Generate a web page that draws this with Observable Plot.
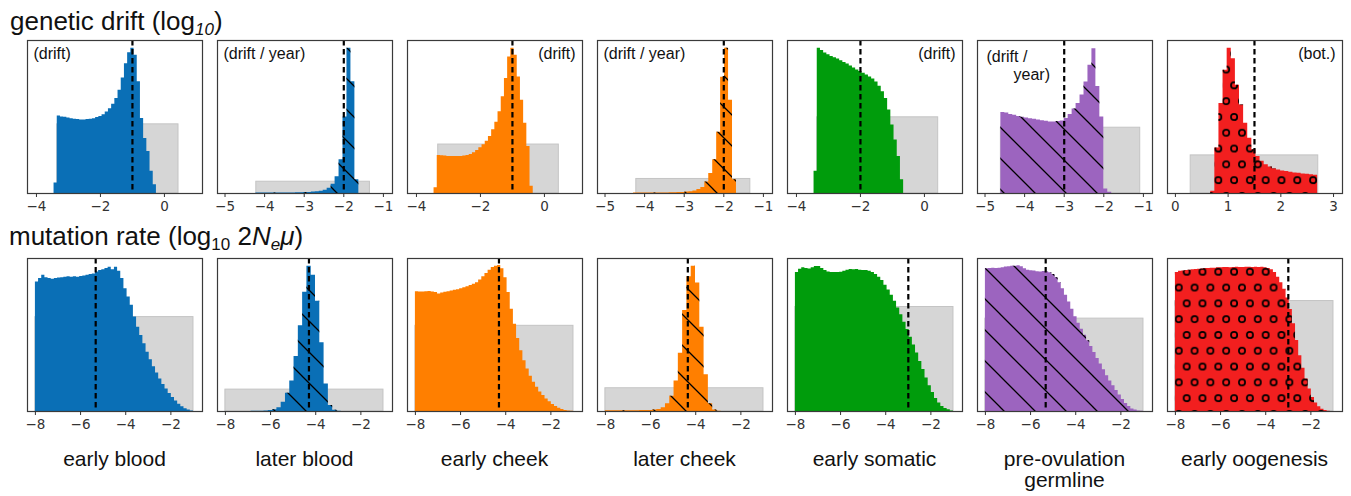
<!DOCTYPE html>
<html><head><meta charset="utf-8">
<script src="https://cdn.jsdelivr.net/npm/d3@7"></script>
<script src="https://cdn.jsdelivr.net/npm/@observablehq/plot@0.6"></script>
<style>
body{margin:0;background:#fff;}
#root{position:relative;width:1351px;height:496px;overflow:hidden;background:#fff;font-family:"Liberation Sans",Arial,sans-serif;color:#111;}
.panel{position:absolute;}
.title{position:absolute;font-size:26px;line-height:26px;white-space:nowrap;}
.title sub{font-size:17px;line-height:0;vertical-align:-5px;}
.col{position:absolute;font-size:21px;line-height:21px;text-align:center;width:220px;white-space:pre;}
</style></head><body>
<svg width="0" height="0" style="position:absolute">
<defs>
<pattern id="hatch" patternUnits="userSpaceOnUse" width="31" height="31">
<path d="M-5,-5L36,36M-5,26L5,36M26,-5L36,5" stroke="#000" stroke-width="1.3" fill="none"/>
</pattern>
<pattern id="circles" patternUnits="userSpaceOnUse" width="15.8" height="31.6">
<circle cx="4" cy="4" r="3.1" stroke="#000" stroke-width="1.7" fill="none"/>
<circle cx="11.9" cy="19.8" r="3.1" stroke="#000" stroke-width="1.7" fill="none"/>
</pattern>
</defs>
</svg>
<div id="root"></div>
<script>
// ---------- data ----------
const columnNames = ["early blood","later blood","early cheek","later cheek","early somatic","pre-ovulation\ngermline","early oogenesis"];
const columnColors = ["#0a6fb6","#0a6fb6","#ff7f00","#ff7f00","#009c0c","#9c64bf","#f21f1f"];
const columnFills = ["solid","hatch","solid","hatch","solid","hatch","circles"];

// top row: genetic drift (log10)
const driftNotes = [["(drift)"],["(drift / year)"],["(drift)"],["(drift / year)"],["(drift)"],["(drift /","year)"],["(bot.)"]];
const driftDomains = [[-4.28,1.19],[-5.19,-0.77],[-4.28,1.19],[-5.19,-0.77],[-4.28,1.19],[-5.19,-0.77],[-0.15,3.17]];
const driftTicks = [[-4,-2,0],[-5,-4,-3,-2,-1],[-4,-2,0],[-5,-4,-3,-2,-1],[-4,-2,0],[-5,-4,-3,-2,-1],[0,1,2,3]];
const driftTrue = [-1,-2,-1,-2,-2,-3,1.5];
const driftPriorLo = [-3.35,-4.21,-3.32,-4.21,-3.35,-4.6,0.29];
const driftPriorHi = [0.44,-1.34,0.45,-1.33,0.43,-1.08,2.71];
const driftPriorHeight = [45.2,7.7,32,9.5,49.8,43,24.9];
const driftBinStart = [-3.45,-4.22,-3.45,-4.28,-3.45,-4.6,0.67];
const driftBinWidth = [0.1,0.1,0.1,0.1,0.1,0.1,0.078];
const driftEarlyBlood = [6.9,50.6,50,49.8,49.4,48.9,48.5,48.3,48.1,48.1,48.3,48.5,48.9,49.6,50.4,51.5,53.2,55.4,58.4,62.1,67.5,75.5,84.8,92,95,90.3,73,49.1,36,27.5,14.5,5.8];
const driftLaterBlood = [0.4,0.4,0.4,0.3,0.3,0.3,0.3,0.3,0.4,0.4,0.5,0.5,0.6,0.7,0.9,1.1,1.5,2.2,3.5,6,11,22,50,95,73,9];
const driftEarlyCheek = [3.7,24.9,24.7,24.5,24.2,24.2,24.2,24.2,24.2,24.5,24.9,25.5,26.6,28.1,29.9,31.8,34.2,37.2,41.6,46.5,53.5,63.2,75.1,89.2,95,90.3,76.2,61,45.9,30.7,4.8];
const driftLaterCheek = [0.3,0.4,0.4,0.4,0.4,0.4,0.3,0.3,0.4,0.5,0.5,0.6,0.7,0.9,1.2,1.7,2.6,4,7.5,13,22,40,76,95,61,9];
const driftEarlySomatic = [14.5,95,93.5,91.8,90.7,89.6,88.7,87.9,86.8,85.7,84.6,83.3,82,80.7,79.7,78.6,77.5,76.2,74.9,72.9,70.1,66.5,62.1,54.5,44.8,35,24.2,9];
const driftPreOvulation = [53,52.6,51.7,51.1,50.4,49.8,49.4,48.9,48.5,48.1,47.6,47.2,46.8,46.8,47,47.4,49.1,51.7,55.2,58.9,64.3,72.9,83.8,94.6,70,50,3,0.8];
const driftOogenesis = [1.5,29.7,58.9,80.5,95,88,70.8,57.8,45.9,36.1,28.6,24.2,21,18.8,17.3,16.2,15.4,14.7,14.3,13.9,13.4,13.2,12.8,12.6,12.3,11.9];
const driftCounts = [driftEarlyBlood,driftLaterBlood,driftEarlyCheek,driftLaterCheek,driftEarlySomatic,driftPreOvulation,driftOogenesis];

// bottom row: mutation rate (log10 2Ne mu)
const mutDomain = [-8.35,-0.6];
const mutTicks = [-8,-6,-4,-2];
const mutTrue = [-5.33,-4.3,-4.3,-4.35,-3,-5.33,-3];
const mutPriorLo = [-8,-8,-8,-8,-8,-8,-8];
const mutPriorHi = [-1,-1,-1,-1,-1,-1,-1];
const mutPriorHeight = [61.7,14.3,56,15.2,68.3,60.7,72.2];
const mutBinStart = [-8,-8,-8,-8,-8,-8,-8];
const mutBinWidth = [0.14,0.19,0.14,0.19,0.14,0.14,0.14];
const mutEarlyBlood = [84.7,86.9,89.1,87.5,86.9,86.4,86.9,87.3,87.5,87.7,88,87.7,88,87.7,88.2,88.6,89.1,89.5,89.9,91.2,92.1,92.6,93.4,94.3,92.6,94.3,91.7,86.9,80.3,74.8,69.4,61.7,55.1,49.7,44.2,38.7,33.9,29.3,25.2,21.2,17.7,14.7,11.8,9.2,6.8,4.8,3.1,1.8,0.9,0.3];
const mutLaterBlood = [0,0,0,0,0,0,0.1,0.15,0.2,0.35,0.6,1.2,2.5,6,12,20,36,56,78,95,89,72,45,18,4,0.8,0.2,0,0,0,0,0,0,0,0,0,0];
const mutEarlyCheek = [78.3,78.1,78.1,78.3,78.5,78.1,77.7,76.8,77.4,77.9,78.3,78.7,79.2,79.6,80.3,80.9,81.6,82.4,83.1,84.2,85.9,88.1,90.2,92.4,94.1,95,95.4,93.3,87.4,77.7,66.8,57,47.7,39.7,33.2,27.8,23,19.1,15.8,12.8,10.4,8.2,6.3,4.6,3.3,2.2,1.3,0.7,0.3,0.1];
const mutLaterCheek = [0.5,0.5,0.5,0.5,0.5,0.5,0.5,0.5,0.6,0.6,0.7,0.9,1.3,2.5,5,10,20,38,66,88,95,84,55,24,5,1,0.2,0,0,0,0,0,0,0,0,0,0];
const mutEarlySomatic = [90.8,93,93.9,93.4,93.2,93.9,94.7,94.7,93.4,92.1,91.2,90.8,90.8,90.8,91,91.7,92.3,92.8,92.6,92.8,92.3,92.1,92.1,91.7,90.8,89.5,87.7,85.6,82.5,79.4,75.9,72,67.6,63.2,58.4,53.6,48.6,43.5,38.3,32.6,27.4,21.9,16.8,12.5,8.5,5.5,3.3,2,1.1,0.4];
const mutPreOvulation = [93.3,93.5,93.7,93.5,93.7,93.9,94.4,94.6,95,94.9,95.2,94.6,93.3,92.4,92,91.8,91.3,91.1,91.5,91.3,90.7,89.6,87.4,84.2,80.3,75.9,71.6,66.8,62,57.7,53.8,49.9,46.2,42.5,38.6,34.7,31,27.3,23.4,20,16.9,13.7,10.8,7.8,5.2,3.3,1.7,0.9,0.4,0.2];
const mutOogenesis = [90.8,91.7,91.9,92.1,92.3,92.6,92.8,93,93.2,93.4,93.4,93.7,93.7,93.9,93.9,94.1,94.1,93.9,94.1,94.3,94.1,94.1,94.3,94.3,94.1,94.3,94.1,94.3,93.9,93.4,92.6,90.8,87.7,84.2,79.9,74.2,66.7,57.3,46.4,36.5,28.2,21.2,14.7,9.2,5.5,3.1,1.5,0.7,0.2,0];
const mutCounts = [mutEarlyBlood,mutLaterBlood,mutEarlyCheek,mutLaterCheek,mutEarlySomatic,mutPreOvulation,mutOogenesis];

// ---------- layout ----------
const root = document.getElementById("root");
const PANEL_LEFT0 = 27, PANEL_STEP = 190, FRAME_W = 175, FRAME_H = 153;
const ML = 8, MR = 7, MT = 6, MB = 28;
const noteSide = ["left","left","right","left","right","left","right"];
const fmtTick = d => (d < 0 ? "\u2212" : "") + Math.abs(d);

function histPoints(start, width, counts) {
  const pts = counts.map((c, i) => ({x: start + i * width, y: c}));
  pts.push({x: start + counts.length * width, y: counts[counts.length - 1]});
  return pts;
}

function makePanel(o) {
  const pts = histPoints(o.start, o.width, o.counts);
  const marks = [
    Plot.rect([{lo: o.priorLo, hi: o.priorHi, base: 0, h: o.priorH}],
      {x1: "lo", x2: "hi", y1: "base", y2: "h", fill: "#d6d6d6", stroke: "#c4c4c4", strokeWidth: 1}),
    Plot.areaY(pts, {x: "x", y: "y", curve: "step-after", fill: o.color})
  ];
  if (o.fill !== "solid") marks.push(Plot.areaY(pts, {x: "x", y: "y", curve: "step-after", fill: `url(#${o.fill})`}));
  marks.push(Plot.ruleX([o.trueVal], {stroke: "#000", strokeWidth: 2.2, strokeDasharray: "5.5,3.5"}));
  marks.push(Plot.frame({stroke: "#3a3a3a", strokeWidth: 1.2}));
  marks.push(Plot.axisX({ticks: o.ticks, tickFormat: fmtTick, tickSize: 4, tickPadding: 4, fontSize: 13.5, label: null, color: "#333"}));
  if (o.notes) {
    o.notes.forEach((t, j) => {
      const right = o.side === "right";
      marks.push(Plot.text([t], {
        frameAnchor: right ? "top-right" : "top-left",
        textAnchor: right ? "end" : "start",
        lineAnchor: "top",
        dx: right ? -7 : (o.notes.length > 1 ? (j === 0 ? 9 : 36) : 6),
        dy: o.notes.length > 1 ? 10 + j * 18 : 7,
        fontSize: 16, fontFamily: "Liberation Sans, Arial, sans-serif", fill: "#111"
      }));
    });
  }
  return Plot.plot({
    width: FRAME_W + ML + MR, height: FRAME_H + MT + MB,
    marginLeft: ML, marginRight: MR, marginTop: MT, marginBottom: MB,
    x: {domain: o.domain},
    y: {domain: [0, 100], axis: null},
    style: {fontFamily: "DejaVu Sans, sans-serif", fontSize: "13.5px", background: "transparent", overflow: "visible"},
    marks
  });
}

function place(el, left, top) {
  const d = document.createElement("div");
  d.className = "panel";
  d.style.left = left + "px"; d.style.top = top + "px";
  d.appendChild(el); root.appendChild(d);
}

for (let i = 0; i < 7; i++) {
  const left = PANEL_LEFT0 + PANEL_STEP * i;
  place(makePanel({
    start: driftBinStart[i], width: driftBinWidth[i], counts: driftCounts[i],
    color: columnColors[i], fill: columnFills[i],
    priorLo: driftPriorLo[i], priorHi: driftPriorHi[i], priorH: driftPriorHeight[i],
    trueVal: driftTrue[i], domain: driftDomains[i], ticks: driftTicks[i],
    notes: driftNotes[i], side: noteSide[i]
  }), left - ML, 40 - MT);
  place(makePanel({
    start: mutBinStart[i], width: mutBinWidth[i], counts: mutCounts[i],
    color: columnColors[i], fill: columnFills[i],
    priorLo: mutPriorLo[i], priorHi: mutPriorHi[i], priorH: mutPriorHeight[i],
    trueVal: mutTrue[i], domain: mutDomain, ticks: mutTicks
  }), left - ML, 258 - MT);
  const c = document.createElement("div");
  c.className = "col";
  c.textContent = columnNames[i];
  c.style.left = (left + FRAME_W / 2 - 110) + "px";
  c.style.top = "448px";
  root.appendChild(c);
}

const t1 = document.createElement("div");
t1.className = "title"; t1.style.left = "10px"; t1.style.top = "8px";
t1.innerHTML = "genetic drift (log<sub><i>10</i></sub>)";
root.appendChild(t1);
const t2 = document.createElement("div");
t2.className = "title"; t2.style.left = "9px"; t2.style.top = "223px";
t2.innerHTML = "mutation rate (log<sub>10</sub> 2<i>N</i><sub><i>e</i></sub><i>\u03bc</i>)";
root.appendChild(t2);
</script>
</body></html>
